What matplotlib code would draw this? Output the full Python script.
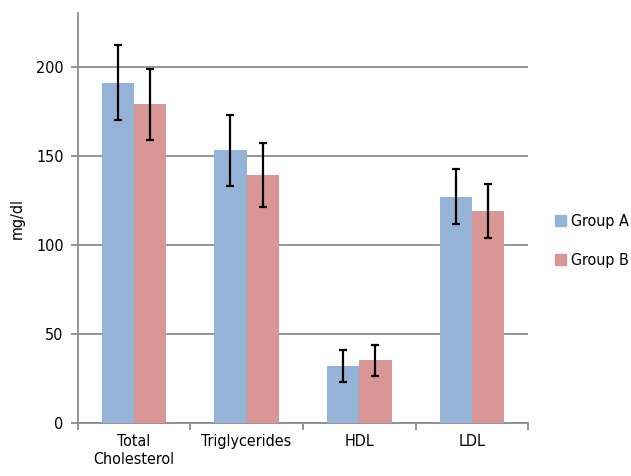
import numpy as np
import matplotlib.pyplot as plt
from matplotlib.patches import Patch

categories = ["Total\nCholesterol", "Triglycerides", "HDL", "LDL"]
group_a = [191, 153, 32, 127]
group_a_err = [21, 20, 9, 15.5]
group_b = [179, 139, 35, 119]
group_b_err = [20, 18, 8.5, 15]
series_names = ["Group A", "Group B"]

plt.rcParams['font.family'] = ['DejaVu Sans']
plt.rcParams['font.stretch'] = 'condensed'

col_a = "#95B3D7"
col_b = "#D99694"
grid_col = "#8C8C8C"
fs = 11.5

fig = plt.figure(figsize=(6.31, 4.76), dpi=100)
ax = fig.add_axes([0.123, 0.112, 0.714, 0.86])

x = np.arange(len(categories))
w = 0.287
ax.bar(x - w/2, group_a, w, color=col_a, zorder=3)
ax.bar(x + w/2, group_b, w, color=col_b, zorder=3)
ax.errorbar(x - w/2, group_a, yerr=group_a_err, fmt="none", ecolor="black",
            elinewidth=1.6, capsize=3, capthick=1.6, zorder=4)
ax.errorbar(x + w/2, group_b, yerr=group_b_err, fmt="none", ecolor="black",
            elinewidth=1.6, capsize=3, capthick=1.6, zorder=4)

ax.set_xlim(-0.5, len(categories) - 0.5)
ax.set_ylim(0, 230)
ax.set_yticks([0, 50, 100, 150, 200])
ax.yaxis.grid(True, color=grid_col, linewidth=1.3, zorder=0)
ax.set_axisbelow(True)

# x ticks between the categories, labels centered
ax.set_xticks(np.arange(-0.5, len(categories)), minor=False)
ax.set_xticklabels([])
ax.set_xticks(x, minor=True)
ax.set_xticklabels(categories, minor=True, fontsize=fs, linespacing=1.3)
ax.tick_params(axis="x", which="minor", length=0, pad=8)
ax.tick_params(axis="x", which="major", length=5, color=grid_col, width=1.3)
ax.tick_params(axis="y", length=5, color=grid_col, width=1.3, labelsize=fs, pad=5)

for s in ["top", "right"]:
    ax.spines[s].set_visible(False)
for s in ["left", "bottom"]:
    ax.spines[s].set_color(grid_col)
    ax.spines[s].set_linewidth(1.3)

ax.set_ylabel("mg/dl", fontsize=fs, labelpad=8)

handles = [Patch(color=col_a), Patch(color=col_b)]
fig.legend(handles, series_names, loc="center left", bbox_to_anchor=(0.879, 0.493),
           frameon=False, fontsize=fs, handlelength=0.7, handleheight=0.7,
           handletextpad=0.35, labelspacing=1.5, borderaxespad=0, borderpad=0)

fig.savefig("out.png", dpi=100)
